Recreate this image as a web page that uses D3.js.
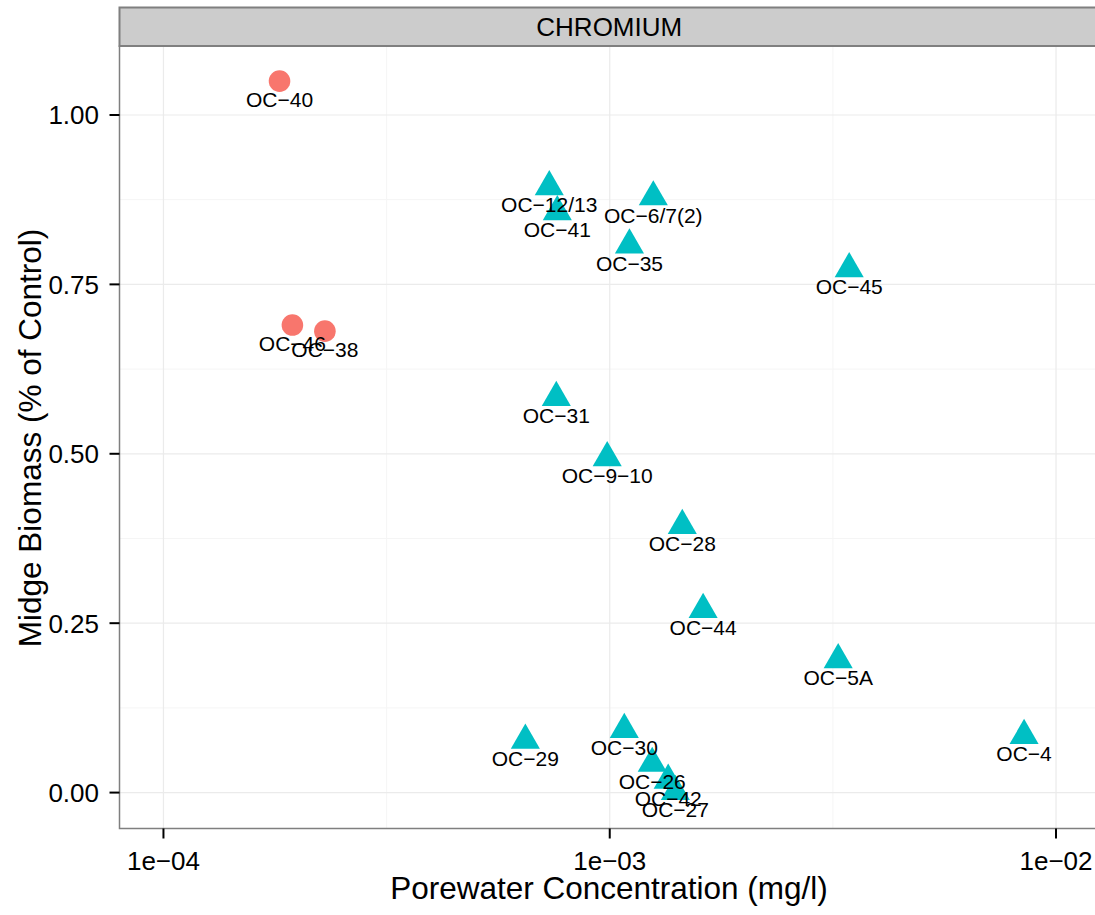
<!DOCTYPE html>
<html><head><meta charset="utf-8">
<script src="https://cdn.jsdelivr.net/npm/d3@7"></script>
<style>body{margin:0;background:#fff}svg{display:block}text{font-family:"Liberation Sans",Arial,Helvetica,sans-serif}</style>
</head><body>
<svg id="c" width="1095" height="915"></svg>
<script>
// data
const labels = ["OC−40","OC−46","OC−38","OC−12/13","OC−41","OC−6/7(2)","OC−35","OC−45","OC−31","OC−9−10","OC−28","OC−44","OC−5A","OC−4","OC−29","OC−30","OC−26","OC−42","OC−27"];
const conc = [1.82e-4,1.945e-4,2.30e-4,7.32e-4,7.63e-4,1.252e-3,1.107e-3,3.44e-3,7.59e-4,9.87e-4,1.454e-3,1.619e-3,3.25e-3,8.48e-3,6.47e-4,1.078e-3,1.245e-3,1.352e-3,1.403e-3];
const biomass = [1.050,0.690,0.681,0.894,0.857,0.879,0.808,0.773,0.583,0.494,0.394,0.270,0.196,0.084,0.077,0.093,0.043,0.018,0.0015];
const group = ["a","a","a","b","b","b","b","b","b","b","b","b","b","b","b","b","b","b","b"];
const xTicks = [1e-4,1e-3,1e-2];
const xTickLabels = ["1e−04","1e−03","1e−02"];
const yTicks = [0,0.25,0.5,0.75,1.0];
const yTickLabels = ["0.00","0.25","0.50","0.75","1.00"];
const xMinor = [Math.pow(10,-3.5),Math.pow(10,-2.5)];
const yMinor = [0.125,0.375,0.625,0.875];
const stripLabel = "CHROMIUM";

const svg = d3.select("#c");
const L = 119.5, R = 1099, T = 46, B = 828.5, stripTop = 7.5;
const x = d3.scaleLog().domain([Math.pow(10,-4.0985), Math.pow(10,-1.9037)]).range([L,R]);
const y = d3.scaleLinear().domain([-0.053,1.1018]).range([B,T]);

// panel
svg.append("rect").attr("x",L).attr("y",T).attr("width",R-L).attr("height",B-T).attr("fill","#fff");
const g = svg.append("g");
g.selectAll(".ymin").data(yMinor).join("line").attr("x1",L).attr("x2",R).attr("y1",d=>y(d)).attr("y2",d=>y(d)).attr("stroke","#F5F5F5").attr("stroke-width",1);
g.selectAll(".xmin").data(xMinor).join("line").attr("y1",T).attr("y2",B).attr("x1",d=>x(d)).attr("x2",d=>x(d)).attr("stroke","#F5F5F5").attr("stroke-width",1);
g.selectAll(".ymaj").data(yTicks).join("line").attr("x1",L).attr("x2",R).attr("y1",d=>y(d)).attr("y2",d=>y(d)).attr("stroke","#EBEBEB").attr("stroke-width",1.2);
g.selectAll(".xmaj").data(xTicks).join("line").attr("y1",T).attr("y2",B).attr("x1",d=>x(d)).attr("x2",d=>x(d)).attr("stroke","#EBEBEB").attr("stroke-width",1.2);

const s = 10.8;
const data = labels.map((l,i)=>({l, c:conc[i], b:biomass[i], g:group[i]}));
const pts = svg.append("g");
data.forEach(d=>{
  const px = x(d.c), py = y(d.b);
  if(d.g==="a"){
    pts.append("circle").attr("cx",px).attr("cy",py).attr("r",s).attr("fill","#F8766D");
  } else {
    const p = [[px,py-1.5551*s],[px+1.3468*s,py+0.7776*s],[px-1.3468*s,py+0.7776*s]];
    pts.append("path").attr("d","M"+p.map(q=>q.join(",")).join("L")+"Z").attr("fill","#00BFC4");
  }
});
const lab = svg.append("g");
data.forEach(d=>{
  lab.append("text").attr("x",x(d.c)).attr("y",y(d.b)+18).attr("dy","0.36em").attr("text-anchor","middle").attr("font-size",21).attr("fill","#000").text(d.l);
});

// border
svg.append("rect").attr("x",L).attr("y",T).attr("width",R-L).attr("height",B-T).attr("fill","none").attr("stroke","#7F7F7F").attr("stroke-width",1.5);
// strip
svg.append("rect").attr("x",L).attr("y",stripTop).attr("width",R-L).attr("height",T-stripTop).attr("fill","#CCCCCC").attr("stroke","#7F7F7F").attr("stroke-width",2);
svg.append("text").attr("x",(L+R)/2).attr("y",(stripTop+T)/2).attr("dy","0.36em").attr("text-anchor","middle").attr("font-size",26).text(stripLabel);

// axes
const ax = svg.append("g");
xTicks.forEach((t,i)=>{
  ax.append("line").attr("x1",x(t)).attr("x2",x(t)).attr("y1",B).attr("y2",B+10).attr("stroke","#000").attr("stroke-width",2);
  ax.append("text").attr("x",x(t)).attr("y",861).attr("dy","0.36em").attr("text-anchor","middle").attr("font-size",26).text(xTickLabels[i]);
});
yTicks.forEach((t,i)=>{
  ax.append("line").attr("x1",L-10).attr("x2",L).attr("y1",y(t)).attr("y2",y(t)).attr("stroke","#000").attr("stroke-width",2);
  ax.append("text").attr("x",99).attr("y",y(t)).attr("dy","0.36em").attr("text-anchor","end").attr("font-size",26).text(yTickLabels[i]);
});
svg.append("text").attr("x",609).attr("y",888).attr("dy","0.36em").attr("text-anchor","middle").attr("font-size",31.5).text("Porewater Concentration (mg/l)");
svg.append("text").attr("transform","translate(30,438) rotate(-90)").attr("dy","0.36em").attr("text-anchor","middle").attr("font-size",31.5).text("Midge Biomass (% of Control)");
</script>
</body></html>
